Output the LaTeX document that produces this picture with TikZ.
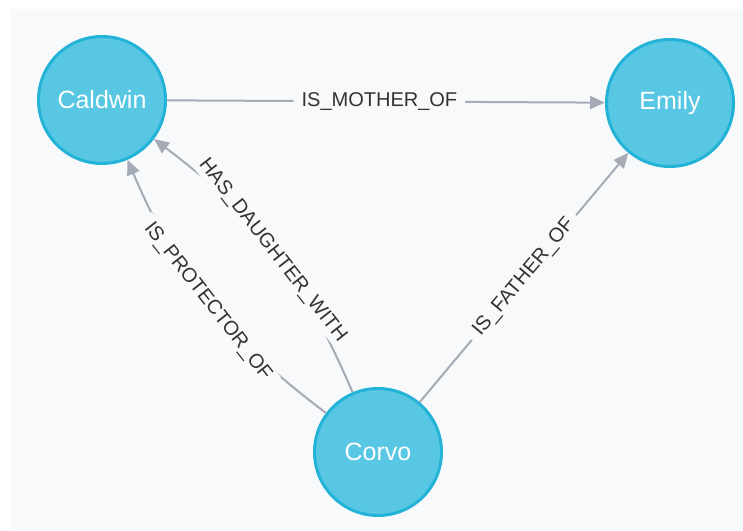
\documentclass[tikz,border=0pt]{standalone}
\usepackage{fontspec}
\setmainfont{Liberation Sans}
\usetikzlibrary{arrows.meta}
\definecolor{nodefill}{HTML}{57C7E3}
\definecolor{nodeline}{HTML}{23B3D7}
\definecolor{relline}{HTML}{A5ABB6}
\definecolor{canvas}{HTML}{F8F9FB}
\tikzset{
  person/.style={circle,fill=nodefill,draw=nodeline,line width=3pt,minimum size=127pt,inner sep=0pt,text=white,font=\fontsize{25}{30}\selectfont},
  rel/.style={draw=relline,line width=2pt,-{Triangle[length=15pt,width=13pt]}},
  caption/.style={fill=canvas,inner xsep=8pt,inner ysep=2pt,text=black!80,font=\fontsize{20}{24}\selectfont,sloped}
}

\begin{document}
\begin{tikzpicture}[x=1pt,y=1pt]
\useasboundingbox (0,0) rectangle (743,530);
\fill[white] (0,0) rectangle (743,530);
\fill[canvas] (11,0) rectangle (743,521);
\node[person] (caldwin) at (102,430) {Caldwin};
\node[person] (emily) at (670,427) {Emily};
\node[person] (corvo) at (378,78) {Corvo};
\draw[rel] (caldwin) -- node[caption,pos=0.485]{IS\_MOTHER\_OF} (emily);
\draw[rel] (corvo) -- node[caption]{IS\_FATHER\_OF} (emily);
\draw[rel] (corvo) to[bend right=15] node[caption]{HAS\_DAUGHTER\_WITH} (caldwin);
\draw[rel] (corvo) to[bend left=15] node[caption]{IS\_PROTECTOR\_OF} (caldwin);
\end{tikzpicture}
\end{document}
